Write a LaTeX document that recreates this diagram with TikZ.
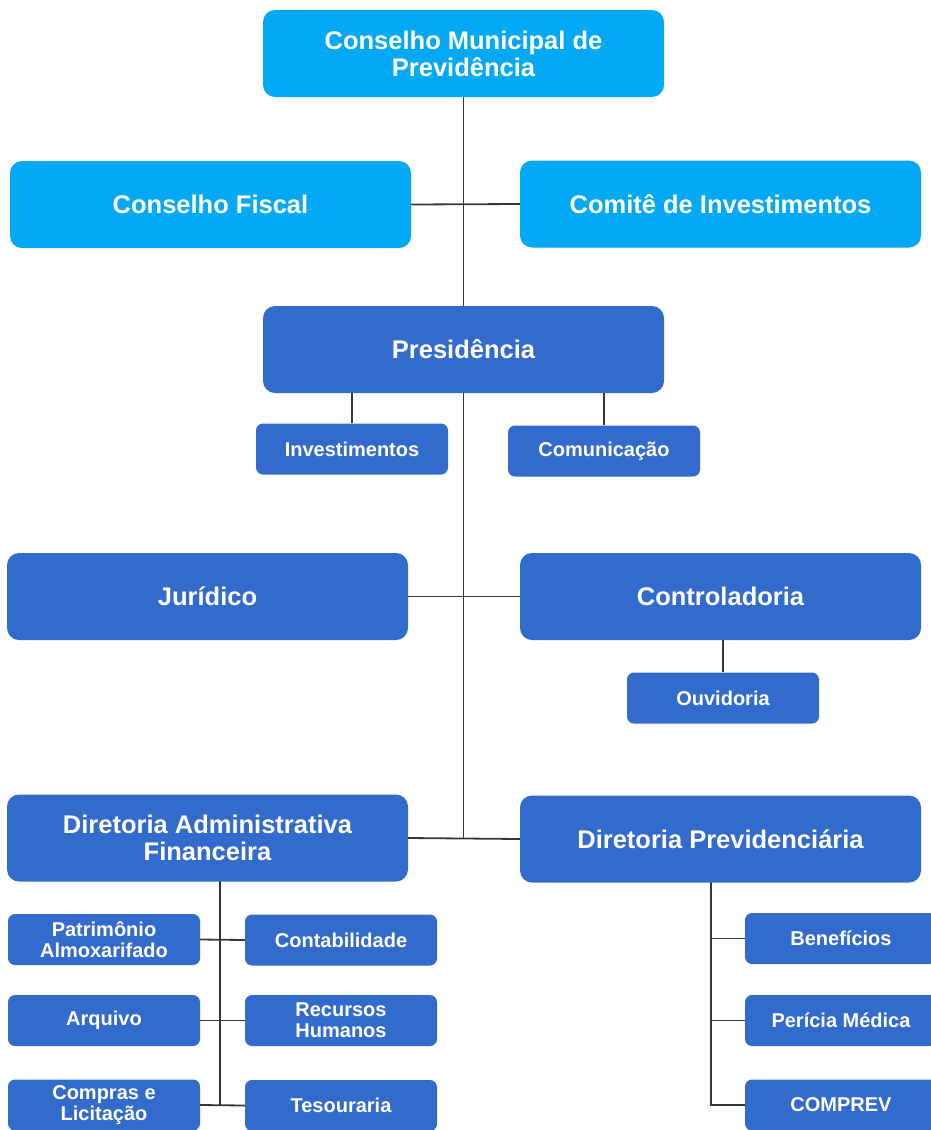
\documentclass[tikz,border=0pt]{standalone}
\usepackage{fontspec}
\setmainfont{Liberation Sans}
\usepackage{tikz}
\usetikzlibrary{positioning,backgrounds}
\definecolor{skyblue}{RGB}{3,169,244}
\definecolor{orgblue}{RGB}{51,107,204}
\definecolor{linegray}{RGB}{55,55,55}

\tikzset{
  bigbox/.style={draw=none, fill=orgblue, text=white, rounded corners=12pt,
    minimum width=401pt, minimum height=87pt, align=center,
    font=\bfseries\fontsize{25.5}{27}\selectfont, inner sep=0pt},
  smallbox/.style={draw=none, fill=orgblue, text=white, rounded corners=7pt,
    minimum width=192pt, minimum height=51pt, align=center,
    font=\bfseries\fontsize{20}{21}\selectfont, inner sep=0pt},
  link/.style={draw=linegray, line width=1.8pt}
}

\begin{document}
\begin{tikzpicture}[x=1pt,y=-1pt]
\useasboundingbox (0,0) rectangle (930,1130);

% top level
\node[bigbox,fill=skyblue] (cmp) at (463.5,53.5) {Conselho Municipal de\\Previdência};
\node[bigbox,fill=skyblue] (fiscal) at (210.5,204.5) {Conselho Fiscal};
\node[bigbox,fill=skyblue] (comite) at (720.5,204) {Comitê de Investimentos};

% presidencia
\node[bigbox] (pres) at (463.5,349.5) {Presidência};
\node[smallbox] (inv) at (352,449) {Investimentos};
\node[smallbox] (com) at (604,451) {Comunicação};

\node[bigbox] (jur) at (207.5,596.5) {Jurídico};
\node[bigbox] (contr) at (720.5,596.5) {Controladoria};
\node[smallbox] (ouv) at (723,698) {Ouvidoria};

% diretorias
\node[bigbox] (daf) at (207.5,838) {Diretoria Administrativa\\Financeira};
\node[bigbox] (dp) at (720.5,839) {Diretoria Previdenciária};

\node[smallbox] (pat) at (104,939.5) {Patrimônio\\Almoxarifado};
\node[smallbox] (cont) at (341,940) {Contabilidade};
\node[smallbox] (arq) at (104,1020.5) {Arquivo};
\node[smallbox] (rh) at (341,1020.5) {Recursos\\Humanos};
\node[smallbox] (compras) at (104,1105) {Compras e\\Licitação};
\node[smallbox] (tes) at (341,1105.5) {Tesouraria};

\node[smallbox] (ben) at (841,938.5) {Benefícios};
\node[smallbox] (pericia) at (841,1020.5) {Perícia Médica};
\node[smallbox] (comprev) at (841,1105) {COMPREV};

% connectors
\begin{scope}[on background layer]
\coordinate (hub) at (cmp.south |- daf.east);
\draw[link] (cmp.south) -- (hub);
\draw[link] (fiscal.east) -- (comite.west);
\draw[link] (jur.east) -- (contr.west);
\draw[link] (daf.east) -- (dp.west);
\draw[link] (inv.north) -- (inv.north |- pres.south);
\draw[link] (com.north) -- (com.north |- pres.south);
\draw[link] (ouv.north) -- (ouv.north |- contr.south);

\coordinate (dafbus) at (220,881);
\draw[link] (dafbus) -- (dafbus |- tes.west);
\draw[link] (pat.east) -- (cont.west);
\draw[link] (arq.east) -- (rh.west);
\draw[link] (compras.east) -- (tes.west);

\coordinate (dpbus) at (711,882);
\draw[link] (dpbus) |- (comprev.west);
\draw[link] (dpbus |- ben.west) -- (ben.west);
\draw[link] (dpbus |- pericia.west) -- (pericia.west);
\end{scope}
\end{tikzpicture}
\end{document}
